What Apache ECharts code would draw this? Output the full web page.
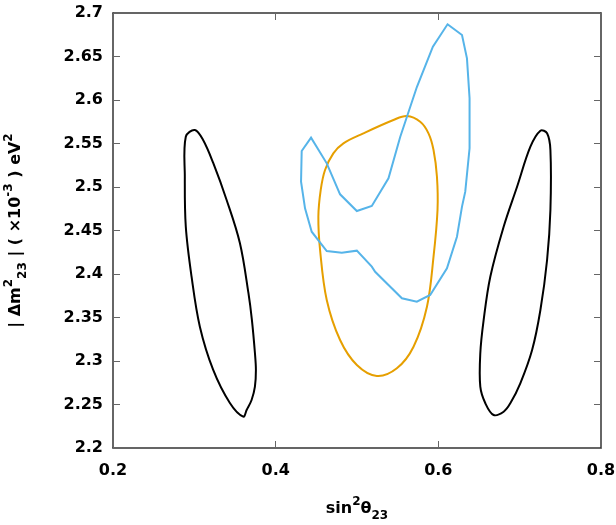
<!DOCTYPE html>
<html>
<head>
<meta charset="utf-8">
<script src="https://cdn.jsdelivr.net/npm/echarts@6/dist/echarts.min.js"></script>
<style>
html, body { margin: 0; padding: 0; background: #fff; }
#chart { width: 616px; height: 525px; }
</style>
</head>
<body>
<div id="chart"></div>
<script>
// contours: [sin^2 theta23, |dm2_23| (1e-3 eV^2)]
var leftContour = [
    [0.3006, 2.5655], [0.2895, 2.5578], [0.2883, 2.5118], [0.2895, 2.4544],
    [0.2966, 2.3969], [0.3068, 2.3394], [0.3232, 2.2897], [0.3437, 2.2517],
    [0.3601, 2.2360], [0.3643, 2.2437], [0.3704, 2.2552], [0.3745, 2.2705],
    [0.3757, 2.2897], [0.3745, 2.3092], [0.3708, 2.3471], [0.3665, 2.3782],
    [0.3560, 2.4356], [0.3397, 2.4851], [0.3232, 2.5276], [0.3108, 2.5540]
];
var rightContour = [
    [0.7255, 2.5647], [0.7337, 2.5617], [0.7378, 2.5425], [0.7378, 2.4736],
    [0.7337, 2.4161], [0.7255, 2.3586], [0.7153, 2.3126], [0.7008, 2.2744],
    [0.6885, 2.2514], [0.6803, 2.2417], [0.6680, 2.2379], [0.6578, 2.2514],
    [0.6516, 2.2705], [0.6516, 2.3089], [0.6557, 2.3471], [0.6639, 2.3969],
    [0.6803, 2.4544], [0.6968, 2.5003], [0.7132, 2.5463]
];
var orangeContour = [
    [0.5613, 2.5816], [0.5777, 2.5750], [0.5879, 2.5617], [0.5941, 2.5425],
    [0.5983, 2.5118], [0.5990, 2.4736], [0.5941, 2.4199], [0.5860, 2.3624],
    [0.5695, 2.3164], [0.5490, 2.2916], [0.5244, 2.2828], [0.4998, 2.2954],
    [0.4792, 2.3241], [0.4628, 2.3701], [0.4546, 2.4276], [0.4525, 2.4659],
    [0.4554, 2.4966], [0.4607, 2.5195], [0.4709, 2.5387], [0.4833, 2.5502],
    [0.5079, 2.5617], [0.5448, 2.5770]
];
var blueContour = [
    [0.6113, 2.6870], [0.6291, 2.6747], [0.6352, 2.6479], [0.6384, 2.6020],
    [0.6384, 2.5445], [0.6331, 2.4946], [0.6291, 2.4774], [0.6229, 2.4429],
    [0.6106, 2.4066], [0.5900, 2.3759], [0.5736, 2.3682], [0.5552, 2.3721],
    [0.5223, 2.4026], [0.5182, 2.4084], [0.4998, 2.4268], [0.4813, 2.4245],
    [0.4628, 2.4264], [0.4443, 2.4486], [0.4361, 2.4755], [0.4312, 2.5061],
    [0.4320, 2.5414], [0.4435, 2.5567], [0.4628, 2.5272], [0.4792, 2.4916],
    [0.4998, 2.4724], [0.5182, 2.4782], [0.5387, 2.5100], [0.5531, 2.5575],
    [0.5736, 2.6149], [0.5933, 2.6613]
];

var chart = echarts.init(document.getElementById('chart'));

var txt = { fontSize: 16, fontWeight: 'bold', color: '#000', fontFamily: 'DejaVu Sans', lineHeight: 26 };
var sup = { fontSize: 12, fontWeight: 'bold', color: '#000', fontFamily: 'DejaVu Sans', verticalAlign: 'top', lineHeight: 26 };
var sub = { fontSize: 12, fontWeight: 'bold', color: '#000', fontFamily: 'DejaVu Sans', verticalAlign: 'bottom', lineHeight: 26 };

function frameAxis(extra) {
    var a = {
        axisLine: { show: true, onZero: false, lineStyle: { color: '#333', width: 1.5 } },
        axisTick: { show: true, inside: true, length: 7, lineStyle: { color: '#666', width: 1 } },
        splitLine: { show: false }
    };
    for (var k in extra) a[k] = extra[k];
    return a;
}

// closed contour drawn as a polygon through the axes' own coord mapping
function contour(points, color, smooth) {
    return {
        type: 'custom',
        coordinateSystem: 'cartesian2d',
        data: [points[0]],
        silent: true,
        renderItem: function (params, api) {
            var pts = points.map(function (p) { return api.coord(p); });
            return {
                type: 'polygon',
                shape: { points: pts, smooth: smooth },
                style: { fill: 'none', stroke: color, lineWidth: 2 }
            };
        }
    };
}

var option = {
    backgroundColor: '#fff',
    animation: false,
    grid: { left: 113, right: 15, top: 13, bottom: 77, outerBoundsMode: 'none' },
    xAxis: [
        frameAxis({
            type: 'value', min: 0.2, max: 0.8, interval: 0.2, position: 'bottom',
            axisLabel: { fontSize: 16, fontWeight: 'bold', color: '#000', fontFamily: 'DejaVu Sans', margin: 15 },
            name: '{t|sin}{p|2}{t|θ}{b|23}',
            nameLocation: 'middle', nameGap: 48,
            nameTextStyle: { rich: { t: txt, p: sup, b: sub } }
        }),
        frameAxis({
            type: 'value', min: 0.2, max: 0.8, interval: 0.2, position: 'top',
            axisLabel: { show: false }
        })
    ],
    yAxis: [
        frameAxis({
            type: 'value', min: 2.2, max: 2.7, interval: 0.05, position: 'left',
            axisLabel: { fontSize: 16, fontWeight: 'bold', color: '#000', fontFamily: 'DejaVu Sans', margin: 10 },
            name: '{t|| Δm}{p|2}{b|23}{t| | ( ×10}{p|-3}{t| ) eV}{p|2}',
            nameLocation: 'middle', nameGap: 84, nameRotate: 90,
            nameTextStyle: { rich: { t: txt, p: sup, b: sub } }
        }),
        frameAxis({
            type: 'value', min: 2.2, max: 2.7, interval: 0.05, position: 'right',
            axisLabel: { show: false }
        })
    ],
    series: [
        contour(leftContour, '#000000', 0.35),
        contour(rightContour, '#000000', 0.35),
        contour(orangeContour, '#E69F00', 0.35),
        contour(blueContour, '#56B4E9', 0)
    ]
};
chart.setOption(option);
</script>
</body>
</html>
